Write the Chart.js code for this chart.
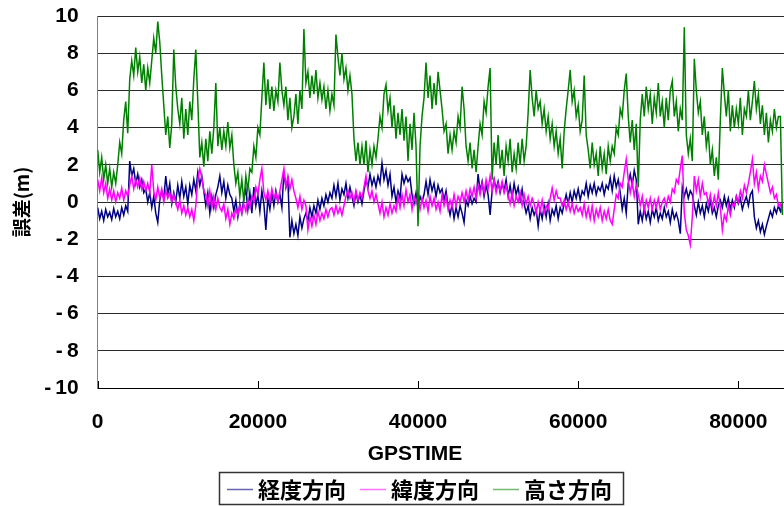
<!DOCTYPE html>
<html>
<head>
<meta charset="utf-8">
<script src="https://cdn.jsdelivr.net/npm/chart.js@4"></script>
<style>
  html, body { margin: 0; padding: 0; background: #fff; }
</style>
</head>
<body>
<canvas id="myChart" width="784" height="506"></canvas>
<script>
// samples every 250 s of GPSTIME
var sampleStep = 250;

var seriesNames = ["経度方向", "緯度方向", "高さ方向"];
var seriesColors = ["#000080", "#ff00ff", "#008000"];
var legendColors = ["rgba(0,0,128,0.6)", "rgba(255,0,255,0.55)", "rgba(0,128,0,0.55)"];

var xTicks = [0, 20000, 40000, 60000, 80000];
var yTicks = [-10, -8, -6, -4, -2, 0, 2, 4, 6, 8, 10];

// 経度方向 (longitude error, m)
var keido = [
  -0.3, -0.9, -0.5, -1.0, -0.4, -0.8, -0.55, -0.95, -0.35, -0.8, -0.5, -0.9, -0.3, -0.7, -0.2, -0.5,
  2.2,
  1.4, 1.8, 1.0, 1.5, 0.8, 1.2, 0.5,
  0.7, 0.0, 0.5, -0.3, 0.3, -0.6, -1.1, 0.1,
  0.6, 0.2, 1.4, 0.4, 1.0, -0.1, 0.5,
  0.0, 0.9, 0.2, 1.1, 0.3, 0.8, -0.1, 0.9, 0.4, 1.2, 0.6,
  1.6, 0.9, 1.4,
  0.6, -0.2, 0.5, -0.6, 0.3, -0.3, 0.4,
  0.8, 1.4, 0.5, 1.1, 0.2, 0.9, 0.4,
  0.2, -0.5, 0.1, -0.8, -0.1, -0.6, 0.2,
  0.7, -0.4, 0.5, -0.6, 0.8, -0.2, 0.4, -0.5, 0.6, -0.1,
  -1.5,
  0.2, -0.4, 0.5, -0.2, 0.6, 0.0, 0.4, -0.3,
  1.6, 0.8, 1.2,
  -1.9,
  -1.0, -1.7, -1.2, -1.8, -0.8, -1.4, -0.9,
  -0.6, -1.0, -0.3, -0.8, -0.2, -0.6, 0.1, -0.4, 0.2, -0.2, 0.4, 0.0, 0.5,
  0.2, 0.9, 0.3, 1.0, 0.1, 0.7, 0.4, 1.0, 0.2, 0.8,
  0.3, -0.2, 0.5, 0.0, 0.4, -0.1, 0.6,
  1.2, 0.8, 1.5, 0.9, 1.3, 0.8,
  1.4, 1.0, 2.1, 1.2, 1.7, 0.9, 1.5,
  0.3, 0.8, 0.0, 0.6, 0.2,
  1.5, 1.0, 1.4, 1.1, 1.3,
  0.4, -0.1, 0.5, -0.2, 0.3, 0.0, 0.4,
  1.1, 0.4, 1.2, 0.6, 1.0, 0.3, 0.9, 0.5, 0.7, 0.1, 0.6,
  -0.2, -0.7, -0.1, -0.9, -0.3, -0.8, -0.2, -0.6,
  -1.1,
  0.1, -0.2, 0.3, -0.1, 0.2, 0.0,
  1.5, 0.6, 1.1, 0.3, 0.9, 0.4,
  -0.7,
  0.6, 1.2, 0.7, 1.1, 0.5, 1.0, 0.6, 1.2,
  0.3, 0.9, 0.2, 1.0, 0.4, 0.8, 0.1, 0.7,
  -0.1, -0.6, -0.2, -0.9, -0.3, -0.7, -0.4,
  -1.3,
  -0.4, -0.9, -0.2, -0.8, -0.1, -1.0, -0.4, -0.7, -0.2, -0.9, -0.3, -0.6,
  -0.1, 0.4, -0.1, 0.5, 0.0, 0.6, 0.2, 0.7, 0.1, 0.6,
  0.4, 1.0, 0.3, 0.9, 0.5, 1.0, 0.4, 0.8, 0.6, 1.0, 0.4, 0.9,
  0.7, 1.3, 0.6, 1.4, 0.8, 1.2, 0.5,
  -0.4, 0.2, -0.6,
  1.0, 1.5, 0.9, 1.7, 1.2,
  -1.2,
  -0.5, -1.0, -0.3, -0.9, -0.5, -1.1, -0.4, -0.8, -0.3, -1.0, -0.6, -0.9, -0.3, -0.8, -0.5, -1.1, -0.4, -0.9, -0.6, -1.0, -1.7,
  0.8, 0.3, 0.7, 0.2, 0.6, 0.4,
  -0.2, -0.7, 0.0, -0.6, -0.2, -0.8, -0.1, -0.5, 0.1, -0.6, -0.3, -0.8, -0.2,
  0.1, -0.3, 0.3, -0.2, 0.2, -0.4, 0.1, -0.3, 0.3, -0.1, 0.2, -0.4, 0.0, 0.3, -0.2, 0.4, 0.6,
  -0.8, -1.4, -1.0, -1.6, -1.2, -1.75, -1.3,
  -0.9, -0.5, -0.8, -0.3, -0.6, -0.2, -0.5, -0.1
];

// 緯度方向 (latitude error, m)
var ido = [
  1.2, 0.6, 1.3, 0.5, 1.0,
  0.2, 0.7, 0.1, 0.6, 0.0, 0.5, 0.2, 0.75, 0.1, 0.6, 0.3,
  0.9, 1.4, 0.7, 1.2, 0.8, 1.3, 0.7, 1.1,
  0.6, 1.0, 0.5,
  2.0,
  0.6, 0.1, 0.8, 0.2, 0.7, 0.0, 0.6, 0.2, 0.5, 0.0, 0.4,
  0.0, -0.4, 0.1, -0.6, -0.2, -0.7, -0.3, -0.8, -0.4, -1.0,
  -0.2, 1.2, 1.8, 1.3, 0.6,
  0.4, -0.2, 0.6, -0.3, 0.3, -0.4, 0.2, -0.3,
  -0.5, -0.1, -0.9, -0.4, -1.2, -0.6, -0.9,
  -0.4, -0.7, -0.2, -0.6, -0.1, -0.5, 0.1, -0.3,
  0.3, 0.0, 0.8, 0.4, 1.2, 1.8,
  0.5, 0.1, 0.6, 0.0, 0.7, 0.2, 0.5, 0.0, 0.6,
  1.2, 1.8, 0.8, 1.4, 0.7, 1.2, 0.6,
  0.2, -0.3, 0.3, -0.4, 0.1, -0.2,
  -1.5, -0.8, -1.3, -0.7, -1.2, -0.5, -1.0, -0.6, -0.9, -0.4, -0.8, -0.4,
  -0.3, -0.7, -0.2, -0.6, -0.3, -0.7, -0.2,
  0.3, 0.6, 0.2,
  0.5, 0.0, 0.6, 0.1, 0.5, 0.2, 0.8, 1.4, 0.6, 0.2, 0.6, 0.0, 0.4,
  -0.1, -0.6, 0.0, -0.8, -0.3, -0.7, -0.1, -0.6, -0.2, -0.5,
  0.3, -0.3, 0.4, -0.2, 0.65, 0.0, 0.4, -0.4, 0.3, -0.1,
  0.3, -0.4, 0.2, -0.3, 0.1, -0.5, 0.3, -0.2, 0.2, -0.4, 0.0, -0.5, 0.4, -0.2, 0.3, -0.4, 0.1, -0.3, 0.4, -0.2, 0.3, 0.0,
  0.5, 0.0, 0.6, 0.1, 0.7, 0.3, 0.8, 0.2, 0.9, 0.4, 1.0, 0.5, 1.2, 0.7, 1.4,
  0.6, 1.2, 0.5, 1.0, 0.6, 1.1, 0.5, 0.9,
  0.4, -0.1, 0.5, -0.2, 0.3, 0.0, 0.5, -0.2, 0.4, -0.1, 0.3, -0.2, 0.2,
  -0.1, -0.6, 0.0, -0.5, 0.1, -0.6, -0.2, -0.4,
  0.2, 0.75, 0.1, 0.6, 0.2,
  0.2, -0.2, 0.1, -0.4, 0.0, -0.5, -0.1, -0.6, -0.2, -0.5, -0.3, -0.7,
  -0.1, -0.8, -0.3, -0.9, -0.2, -1.0, -0.4, -0.8, -0.3, -1.0, -0.5, -0.9, -0.4, -1.0, -1.2,
  -0.4, 0.4, 0.2, 1.0, 0.8, 1.6, 2.3,
  1.2, 0.5, 1.1, 0.3, 0.9, 0.4,
  -0.2, 0.3, -0.5, 0.1, -0.3, 0.2, -0.4,
  0.1, -0.3, 0.2, -0.4, 0.0, 0.2, -0.2, 0.3, 0.0,
  0.7, 0.5, 1.2, 1.0, 1.8, 2.5,
  -0.6, -1.5, -1.8, -2.3,
  -0.8, 1.4, 0.6, 1.2, 0.3, 1.0, 0.4,
  0.5, -0.1, 0.4, -0.3, 0.3, -0.2, 0.5,
  -0.3, -1.5, -0.7, -1.0, -0.2, -0.7, -0.1,
  -0.2, 0.3, 0.0, 0.6, 0.2, 0.9, 0.5, 1.0,
  1.6, 2.3,
  1.0, 1.6, 0.7, 1.4, 1.1, 2.0, 1.5,
  1.0, 0.5, 0.8, 0.2, 0.4, -0.2, -0.1, -0.6
];

// 高さ方向 (height error, m)
var takasa = [
  2.8, 1.6, 2.4, 1.2, 2.0, 1.0, 1.8,
  0.8, 1.6, 1.0,
  2.0, 3.2, 2.6, 4.4, 5.4, 3.7, 6.6,
  7.6, 6.8, 8.3, 7.0, 7.8, 6.4, 7.4, 6.0, 7.2,
  6.4, 7.6, 8.8, 8.0, 9.7,
  8.6, 6.8,
  5.2, 3.6, 4.6, 2.9, 4.2,
  8.2,
  6.2, 5.0,
  4.2, 5.6, 3.4, 5.0, 3.6, 5.4, 4.4,
  6.6, 8.2,
  5.4, 2.4, 3.2, 1.9,
  3.4, 2.2, 3.8, 2.6,
  4.0, 6.4,
  3.0, 4.0, 2.8, 3.8, 3.0, 4.3, 2.9, 3.6,
  2.0, 1.0, 1.6, 0.3, 1.2, 0.0, 1.4, 0.6, 1.8,
  1.6, 3.0, 2.4, 4.0, 3.6, 5.6,
  7.5,
  5.2, 6.6, 5.0, 6.2, 4.9, 6.0, 5.4, 7.5, 6.0,
  5.2, 6.2, 4.4, 5.6, 4.0, 4.6, 5.8, 4.2, 6.0, 5.0,
  9.3,
  6.4, 7.0, 5.6, 6.8, 5.8, 7.1, 5.6, 6.4, 5.5,
  6.2, 5.0, 6.0, 4.9, 5.8, 5.2,
  9.0,
  7.8, 6.8, 8.0, 6.6, 7.2, 6.0, 6.8, 5.8,
  3.4, 2.2, 3.2, 2.0,
  3.0, 2.0, 3.3, 1.6, 2.8, 2.0, 3.0, 2.4,
  3.4, 4.6, 4.0, 5.8, 6.3, 4.9, 5.6,
  4.0, 5.2, 3.4, 4.8, 3.6, 5.0, 3.3, 4.6,
  2.2, 4.2, 2.8, 4.8, 3.0, -1.3,
  3.0, 4.6, 5.6, 7.5,
  5.6, 6.8, 5.0, 6.4, 5.2, 7.0, 6.0,
  5.0, 3.8, 4.2, 2.6, 3.6, 2.8, 3.8,
  3.2, 4.6, 4.0, 6.2, 5.0, 3.0,
  2.2, 3.2, 1.8, 2.8, 1.6,
  3.0, 4.2, 3.6, 5.4, 4.8, 6.2, 7.2,
  1.2,
  3.2, 2.0, 3.6, 1.8, 2.8, 1.4, 3.0, 2.2, 3.4, 1.6, 2.6, 1.8, 3.2, 2.0, 3.4, 2.2, 3.0,
  4.8, 7.1, 5.6,
  4.6, 6.0, 5.0,
  5.4, 4.2, 5.0, 3.8, 4.6, 3.4, 4.2, 3.0, 3.8, 2.6, 3.4,
  1.8,
  3.8, 5.0, 6.0, 7.1, 5.4,
  6.0, 4.6, 5.2, 3.8, 4.4, 6.8, 3.6,
  2.8, 1.8, 3.2, 2.0, 2.6, 1.4, 3.0, 1.8, 2.6, 1.5, 3.0, 2.2,
  3.0, 2.6, 4.0, 3.6, 5.0, 4.6, 6.0,
  6.9,
  4.6, 3.2, 4.4, 2.8, 4.2,
  0.8,
  4.4, 5.8, 4.6, 6.2, 5.0, 5.8, 4.2, 5.6, 4.8, 6.4, 4.6, 5.4,
  4.0, 5.6, 4.4, 6.0, 6.5, 4.6, 5.4, 3.8, 5.0, 4.4,
  9.4,
  3.6, 2.6, 3.4, 2.2,
  7.7,
  6.0, 4.8, 5.4, 3.6, 4.6, 3.0, 3.8, 2.0, 2.8, 1.4, 2.4,
  1.2, 4.4, 7.2,
  5.8, 4.6, 6.0, 3.8, 5.2, 4.0, 5.0,
  4.2, 5.6, 3.6, 5.0, 4.6, 6.0, 4.4, 5.4, 6.5, 5.0, 5.8, 4.2, 5.2,
  3.6, 4.8, 3.2, 4.4, 3.8, 5.0, 4.0, 4.6, 4.6, -0.7
];

var tickFont = { family: "'Liberation Sans', Arial, sans-serif", size: 21, weight: "bold" };

function toPoints(values) {
  return values.map(function (v, i) { return { x: i * sampleStep, y: v }; });
}

function makeDataset(k, values, order) {
  return {
    label: seriesNames[k],
    data: toPoints(values),
    borderColor: seriesColors[k],
    backgroundColor: seriesColors[k],
    borderWidth: 1.5,
    pointRadius: 0,
    tension: 0,
    fill: false,
    order: order
  };
}

// legend in a frame, x-axis title and inward x ticks
var extras = {
  id: "extras",
  afterDraw: function (chart) {
    var ctx = chart.ctx;
    ctx.save();

    var xs = chart.scales.x, bottom = chart.chartArea.bottom;
    ctx.strokeStyle = "#000";
    ctx.lineWidth = 1;
    xs.ticks.forEach(function (t) {
      var px = Math.round(xs.getPixelForValue(t.value)) + 0.5;
      ctx.beginPath();
      ctx.moveTo(px, bottom);
      ctx.lineTo(px, bottom - 7);
      ctx.stroke();
    });

    ctx.fillStyle = "#000";
    ctx.font = "bold 21px 'Liberation Sans', Arial, sans-serif";
    ctx.textAlign = "center";
    ctx.textBaseline = "middle";
    ctx.fillText("GPSTIME", 415, 454);

    var sample = 26, gap = 5, itemGap = 14, pad = 8, cy = 489;
    ctx.font = "bold 22px 'Noto Sans CJK JP', sans-serif";
    var widths = seriesNames.map(function (n) { return ctx.measureText(n).width; });
    var total = widths.reduce(function (a, w) { return a + sample + gap + w; }, 0) + itemGap * (seriesNames.length - 1);
    var left = Math.round(420 - total / 2);

    ctx.strokeStyle = "#333";
    ctx.lineWidth = 1.5;
    ctx.strokeRect(left - pad + 0.5, 472.5, Math.round(total + 2 * pad + 3), 32);

    var x = left;
    ctx.textAlign = "left";
    seriesNames.forEach(function (n, k) {
      ctx.strokeStyle = legendColors[k];
      ctx.lineWidth = 1.5;
      ctx.beginPath();
      ctx.moveTo(x, cy + 0.5);
      ctx.lineTo(x + sample, cy + 0.5);
      ctx.stroke();
      x += sample + gap;
      ctx.fillStyle = "#000";
      ctx.fillText(n, x, cy + 1);
      x += widths[k] + itemGap;
    });

    ctx.restore();
  }
};

var chartOptions = {
  type: "line",
  data: {
    datasets: [
      makeDataset(0, keido, 2),
      makeDataset(1, ido, 1),
      makeDataset(2, takasa, 0)
    ]
  },
  options: {
    responsive: false,
    animation: false,
    devicePixelRatio: 1,
    layout: { padding: { top: 16, left: 0, right: 0, bottom: 0 } },
    scales: {
      x: {
        type: "linear",
        min: 0,
        max: 85700,
        grid: { display: true, drawOnChartArea: false, drawTicks: true, tickLength: 22, tickColor: "rgba(0,0,0,0)" },
        border: { color: "#000", width: 1 },
        ticks: {
          font: tickFont,
          color: "#000",
          padding: 0,
          maxRotation: 0,
          autoSkip: false,
          callback: function (v) { return String(v); }
        },
        afterBuildTicks: function (scale) {
          scale.ticks = xTicks.map(function (v) { return { value: v }; });
        },
        afterFit: function (scale) { scale.height = 118; }
      },
      y: {
        min: -10,
        max: 10,
        grid: { color: "#2a2a2a", lineWidth: 1, drawTicks: true, tickLength: 19, tickColor: "rgba(0,0,0,0)" },
        border: { color: "#808080", width: 1 },
        ticks: {
          font: tickFont,
          color: "#000",
          padding: 0,
          callback: function (v) { return v < 0 ? "-\u2009" + (-v) : String(v); }
        },
        afterBuildTicks: function (scale) {
          scale.ticks = yTicks.map(function (v) { return { value: v }; });
        },
        title: {
          display: true,
          text: "誤差(m)",
          color: "#000",
          font: { family: "'Noto Sans CJK JP', sans-serif", size: 19, weight: "bold" },
          padding: { top: 10, bottom: 0 }
        },
        afterFit: function (scale) { scale.width = 97.7; }
      }
    },
    plugins: {
      legend: { display: false },
      tooltip: { enabled: false }
    }
  },
  plugins: [extras]
};

var ctx = document.getElementById("myChart").getContext("2d");
var myChart = new Chart(ctx, chartOptions);
</script>
</body>
</html>
